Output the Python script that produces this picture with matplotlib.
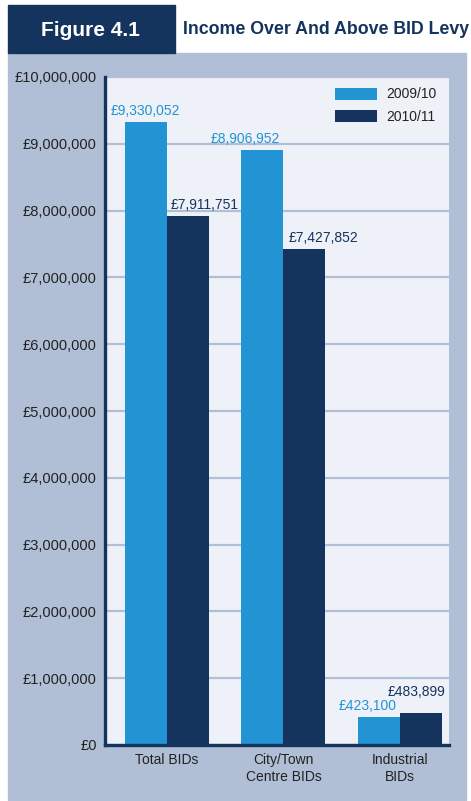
import matplotlib
matplotlib.use("Agg")
import matplotlib.pyplot as plt
from matplotlib.patches import Rectangle
from matplotlib.ticker import FuncFormatter
import numpy as np

plt.rcParams['font.family'] = ['Liberation Sans', 'DejaVu Sans']

categories = ["Total BIDs", "City/Town\nCentre BIDs", "Industrial\nBIDs"]
years = ["2009/10", "2010/11"]
income_0910 = [9330052, 8906952, 423100]
income_1011 = [7911751, 7427852, 483899]

LIGHT = "#2394d3"
NAVY = "#14345e"
PANEL = "#b0bfd6"
PLOT_BG = "#eef1f7"
TEXT = "#222222"

fig = plt.figure(figsize=(4.71, 8.01), dpi=100)
W, H = 471, 801

def fx(px):
    return px / W

def fy(py):
    return 1 - py / H

# header box and grey panel, kept behind the axes
fig.patches.append(Rectangle((fx(8), fy(800)), fx(458), fy(53) - fy(800),
                             transform=fig.transFigure, color=PANEL, zorder=-10))
fig.patches.append(Rectangle((fx(8), fy(53)), fx(167), fy(5) - fy(53),
                             transform=fig.transFigure, color=NAVY, zorder=-10))
fig.text(fx(90), fy(30), "Figure 4.1", color="white", fontsize=15,
         fontweight="bold", ha="center", va="center")
fig.text(fx(183), fy(30), "Income Over And Above BID Levy", color=NAVY,
         fontsize=12.8, fontweight="bold", ha="left", va="center")

ax = fig.add_axes([fx(105), fy(745), fx(449) - fx(105), fy(77) - fy(745)])
ax.set_facecolor(PLOT_BG)

x = np.arange(len(categories))
w = 0.36
b1 = ax.bar(x - w / 2, income_0910, w, color=LIGHT, label=years[0], zorder=3)
b2 = ax.bar(x + w / 2, income_1011, w, color=NAVY, label=years[1], zorder=3)

ax.set_xlim(-0.53, 2.42)
ax.set_ylim(0, 10000000)
ax.set_yticks(np.arange(0, 10000001, 1000000))
ax.yaxis.set_major_formatter(FuncFormatter(lambda v, p: f"£{int(v):,}"))
ax.set_xticks(x)
ax.set_xticklabels(categories, linespacing=1.25)
ax.tick_params(axis="both", length=0, colors=TEXT)
ax.tick_params(axis="y", pad=6, labelsize=10.5)
ax.tick_params(axis="x", pad=6, labelsize=10)

ax.grid(axis="y", color=PANEL, linewidth=1.6, zorder=1)
ax.set_axisbelow(True)
for side in ("top", "right"):
    ax.spines[side].set_visible(False)
for side in ("left", "bottom"):
    ax.spines[side].set_color(NAVY)
    ax.spines[side].set_linewidth(2.4)
    ax.spines[side].set_zorder(4)

# value labels, nudged so neighbours do not collide
offs_0910 = [(0, 3), (-12, 3), (-8, 3)]
offs_1011 = [(12, 3), (14, 3), (-3, 10)]
for bar, v, d in zip(b1, income_0910, offs_0910):
    ax.annotate(f"£{v:,}", (bar.get_x() + bar.get_width() / 2, v),
                xytext=d, textcoords="offset points", ha="center",
                va="bottom", color=LIGHT, fontsize=10)
for bar, v, d in zip(b2, income_1011, offs_1011):
    ax.annotate(f"£{v:,}", (bar.get_x() + bar.get_width() / 2, v),
                xytext=d, textcoords="offset points", ha="center",
                va="bottom", color=NAVY, fontsize=10)

leg = ax.legend(loc="upper right", frameon=False, fontsize=10,
                handlelength=3.0, handleheight=1.0, handletextpad=0.7,
                labelspacing=0.6, bbox_to_anchor=(1.0, 1.003))
for t in leg.get_texts():
    t.set_color(TEXT)

fig.savefig("out.png", dpi=100, facecolor="white")
